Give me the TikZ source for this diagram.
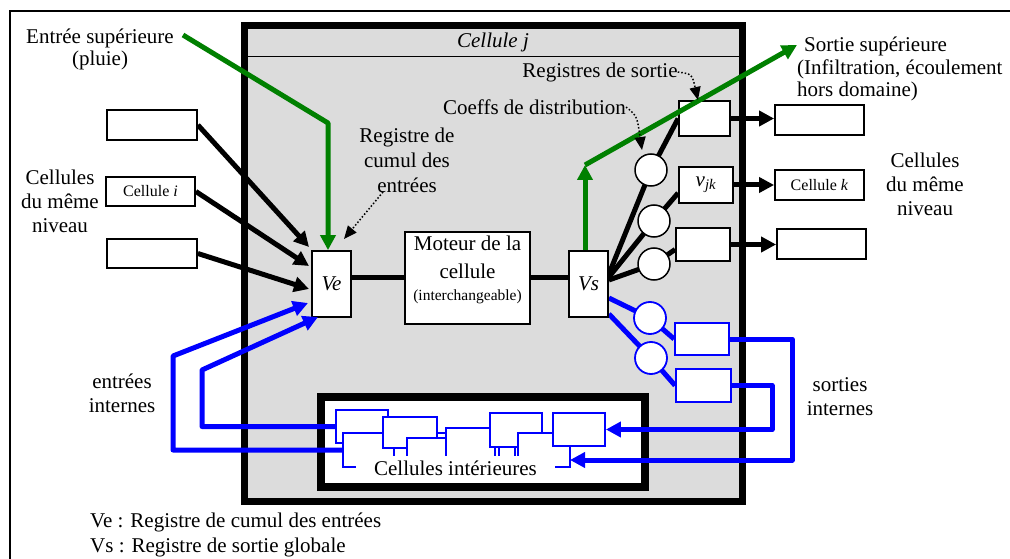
\documentclass[tikz,border=0pt]{standalone}
\usepackage{fontspec}
\setmainfont{Liberation Serif}
\usetikzlibrary{arrows.meta,calc}
\definecolor{cellgray}{RGB}{220,220,220}
\definecolor{dgreen}{RGB}{0,128,0}
\definecolor{pblue}{RGB}{0,0,255}
\pgfdeclarelayer{back}
\pgfdeclarelayer{mid}
\pgfsetlayers{back,mid,main}
\begin{document}
\begin{tikzpicture}[x=1pt,y=-1pt,
  font=\fontsize{21}{24}\selectfont,
  box/.style={draw, line width=1.8pt, fill=white, inner sep=0pt, align=center},
  ibox/.style={draw=pblue, line width=1.8pt, fill=white, inner sep=0pt},
  coef/.style={circle, draw, line width=1.5pt, fill=white, minimum size=32pt, inner sep=0pt},
  bcoef/.style={coef, draw=pblue, line width=1.8pt},
  tipA/.style={-{Triangle[length=15pt,width=15pt]}},
  blk/.style={line width=5pt, tipA},
  heavy/.style={line width=5pt},
  grn/.style={draw=dgreen, line width=5pt, line join=round},
  blu/.style={draw=pblue, line width=5pt, line join=round},
  dots/.style={dotted, line width=1.5pt, -{Triangle[length=13pt,width=11pt]}},
  lbl/.style={align=center, inner sep=0pt},
  small/.style={font=\fontsize{16}{18}\selectfont}
]
\useasboundingbox (0,0) rectangle (1010,559);

\begin{pgfonlayer}{back}
\fill[white] (0,0) rectangle (1010,559);
\draw[line width=1.2pt] (10,559) -- (10,11) -- (1010,11);
\node[draw, line width=7pt, fill=cellgray, minimum width=498pt, minimum height=476pt, inner sep=0pt] (cell) at (493.5,263.5) {};
\draw[line width=1.5pt] (248,56.5) -- (739,56.5);
\node[draw, line width=8pt, fill=white, minimum width=324pt, minimum height=90pt, inner sep=0pt] (inner) at (483,442) {};
\end{pgfonlayer}

% title
\node[lbl] (title) at (493,42) {\itshape Cellule j};

% main registers
\node[box, minimum width=39pt, minimum height=66pt] (Ve) at (331.5,284) {\itshape Ve};
\node[box, minimum width=125pt, minimum height=92pt] (mot) at (467.5,278) {};
\node[lbl, font=\fontsize{21}{28}\selectfont] (motT) at (467.5,270) {Moteur de la\\cellule\\[-6pt]{\fontsize{15.5}{17}\selectfont (interchangeable)}};
\node[box, minimum width=39pt, minimum height=66pt] (Vs) at (588.5,284) {\itshape Vs};

% left neighbour cells
\node[box, minimum width=90pt, minimum height=30pt] (L1) at (152,125) {};
\node[box, minimum width=89pt, minimum height=29pt, small] (L2) at (150.5,191.5) {Cellule \textit{i}};
\node[box, minimum width=90pt, minimum height=29pt] (L3) at (152,253.5) {};

% output registers
\node[box, minimum width=51pt, minimum height=35pt] (r1) at (704.5,118.5) {};
\node[box, minimum width=54pt, minimum height=36pt] (r2) at (706,185) {\textit{v}\textsubscript{\textit{jk}}};
\node[box, minimum width=54pt, minimum height=33pt] (r3) at (703,244.5) {};

% right neighbour cells
\node[box, minimum width=89pt, minimum height=30pt] (o1) at (819.5,120) {};
\node[box, minimum width=89pt, minimum height=30pt, small] (o2) at (819.5,185) {Cellule \textit{k}};
\node[box, minimum width=89pt, minimum height=30pt] (o3) at (821.5,244) {};

% coefficients
\node[coef] (c1) at (651,170) {};
\node[coef] (c2) at (654,221) {};
\node[coef] (c3) at (654,264) {};
\node[bcoef] (bA) at (650,318) {};
\node[bcoef] (bB) at (651,358) {};
\node[ibox, minimum width=54pt, minimum height=32pt] (R1) at (702,339) {};
\node[ibox, minimum width=55pt, minimum height=33pt] (R2) at (703.5,385.5) {};

\begin{pgfonlayer}{mid}
\draw[heavy] ([yshift=10pt]Vs.east) -- (c1.center) -- (r1.west);
\draw[heavy] ([yshift=7pt]Vs.east) -- (c2.center) -- ([yshift=-8pt]r2.west);
\draw[heavy] ([yshift=4pt]Vs.east) -- (c3.center) -- ([yshift=-5pt]r3.west);
\draw[blu] ([yshift=-14pt]Vs.east) -- (bA.center) -- (R1.west);
\draw[blu] ([yshift=-30pt]Vs.east) -- (bB.center) -- (R2.west);
\end{pgfonlayer}

% inner cells
\node[ibox, minimum width=52pt, minimum height=33pt] (ic1) at (362,426.5) {};
\node[ibox, minimum width=227pt, minimum height=34pt] (ic2) at (456.5,450) {};
\node[ibox, minimum width=31pt, minimum height=35pt] (ic2b) at (409.5,457.5) {};
\node[ibox, minimum width=54pt, minimum height=31pt] (ic3) at (410,432.5) {};
\node[ibox, minimum width=39pt, minimum height=37pt] (ic4) at (426.5,456.5) {};
\node[ibox, minimum width=49pt, minimum height=47pt] (ic5) at (470.5,451.5) {};
\node[ibox, minimum width=16pt, minimum height=35pt] (ic5b) at (507,457.5) {};
\node[ibox, minimum width=52pt, minimum height=34pt] (ic6) at (516,430) {};
\node[ibox, minimum width=52pt, minimum height=34pt] (ic7) at (544,450) {};
\node[ibox, minimum width=52pt, minimum height=33pt] (ic8) at (579,429.5) {};
\node[fill=white, inner sep=0pt, minimum width=199pt, minimum height=24pt] (cint) at (455.5,468) {Cellules intérieures};

% named end points
\coordinate (a1) at (309,247);
\coordinate (a2) at (309,266);
\coordinate (a3) at (309,289);
\coordinate (gin) at (183,35);
\coordinate (gbend) at (328,123);
\coordinate (gc) at (585,165);
\coordinate (gout) at (797,45);
\coordinate (b1) at (318,317);
\coordinate (b2) at (308,303);

% black inputs
\draw[blk] (L1.east) -- (a1);
\draw[blk] (L2.east) -- (a2);
\draw[blk] (L3.east) -- (a3);

% engine links
\draw[heavy] ([yshift=7pt]Ve.east) -- ([yshift=7pt]Ve.east -| mot.west);
\draw[heavy] ([yshift=7pt]Vs.west -| mot.east) -- ([yshift=7pt]Vs.west);

% outputs to neighbours
\draw[blk] (r1.east) -- (r1.east -| o1.west);
\draw[blk] (r2.east) -- (r2.east -| o2.west);
\draw[blk] (r3.east) -- (r3.east -| o3.west);

% green
\draw[grn, tipA] (gin) -- (gbend) -- ([xshift=-3.5pt]Ve.north);
\draw[grn, tipA] ([xshift=-3.5pt]Vs.north) -- (gc);
\draw[grn, tipA] (gc) -- (gout);

% blue internal outputs
\draw[blu, tipA] (R1.east) -| (792,460) -- (570,460);
\draw[blu, tipA] (R2.east) -| (772,429.5) -- (ic8.east);
% blue internal inputs
\draw[blu, tipA] (ic1.west) -- (202,426.5) -- (202,370) -- (b1);
\draw[blu, tipA] (ic2.west) -- (173,450) -- (173,356) -- (b2);

% labels
\node[lbl, font=\fontsize{21}{22}\selectfont] (entree) at (100,49) {Entrée supérieure\\(pluie)};
\node[lbl] (cmnL) at (60,201) {Cellules\\du même\\niveau};
\node[lbl] (cmnR) at (925,184) {Cellules\\du même\\niveau};
\node[lbl, font=\fontsize{21}{25}\selectfont] (regcum) at (407,160) {Registre de\\cumul des\\entrées};
\node[lbl] (coeffs) at (534.5,107) {Coeffs de distribution};
\node[lbl] (regsor) at (600,72) {Registres de sortie};
\node[lbl, align=left, anchor=north west, font=\fontsize{21}{22.5}\selectfont] (sortie) at (797,37) {\hspace*{7pt}Sortie supérieure\\(Infiltration, écoulement\\hors domaine)};
\node[lbl] (ei) at (122,393) {entrées\\internes};
\node[lbl] (si) at (840,397) {sorties\\internes};
\node[lbl, align=left, anchor=north west, font=\fontsize{21}{25}\selectfont] (legend) at (90,513) {Ve : Registre de cumul des entrées\\Vs : Registre de sortie globale};

% dotted pointers
\draw[dots] (383,192) -- (344,239);
\draw[dots] (coeffs.east) .. controls (637,116) .. (642,150);
\draw[dots] (regsor.east) .. controls (692,74) .. (698,100);
\end{tikzpicture}
\end{document}
